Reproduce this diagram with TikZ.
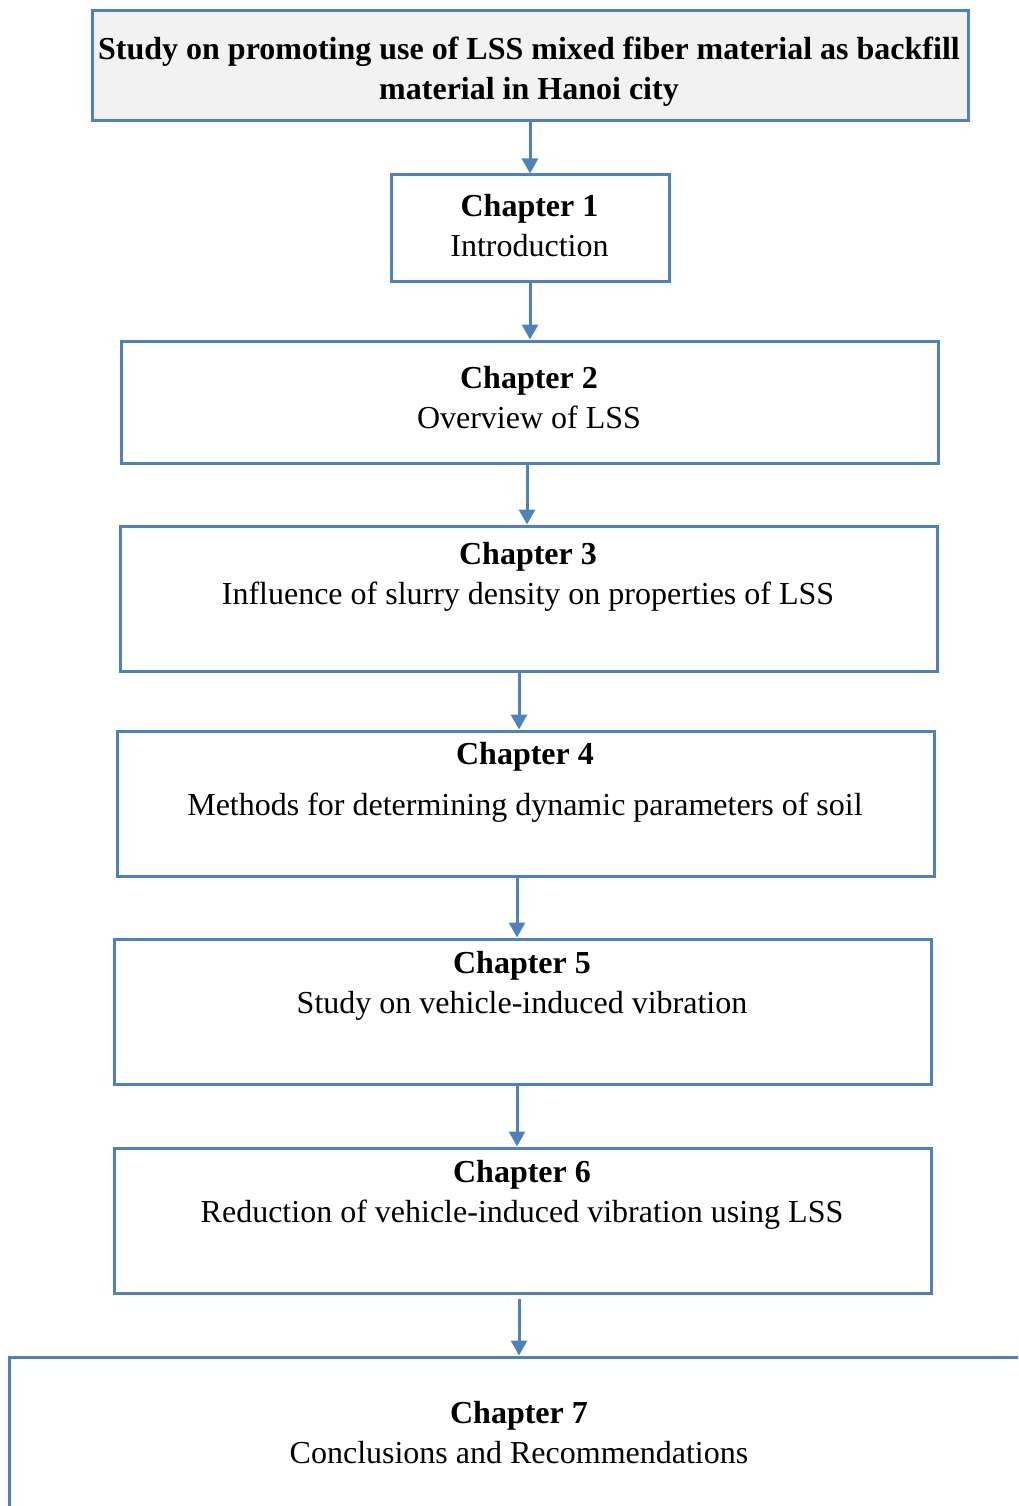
\documentclass[tikz,border=0pt]{standalone}
\usepackage{fontspec}
\setmainfont{Liberation Serif}
\usetikzlibrary{arrows.meta}
\definecolor{boxblue}{HTML}{4F81BD}
\definecolor{boxgray}{HTML}{F2F2F2}
\begin{document}
\begin{tikzpicture}
  [
    x = 1pt, y = -1pt,
    every node/.style = {align = center, inner sep = 0pt, font = \fontsize{32}{40}\selectfont},
    chapbox/.style = {draw = boxblue, line width = 3pt, rectangle},
    flow/.style = {-{Triangle[width = 16pt, length = 15pt]}, draw = boxblue, line width = 3pt}
  ]
    \useasboundingbox (0,0) rectangle (1018,1506);
    \clip (0,0) rectangle (1018,1506);
    \node (top) [chapbox, fill = boxgray, minimum width = 876pt, minimum height = 110pt] at (530,66) {};
    \node (ch1) [chapbox, minimum width = 278pt, minimum height = 106pt] at (530,228) {};
    \node (ch2) [chapbox, minimum width = 817pt, minimum height = 122pt] at (529.5,402) {};
    \node (ch3) [chapbox, minimum width = 817pt, minimum height = 145pt] at (528.5,598.5) {};
    \node (ch4) [chapbox, minimum width = 817pt, minimum height = 145pt] at (525.5,803.5) {};
    \node (ch5) [chapbox, minimum width = 817pt, minimum height = 145pt] at (522.5,1011.5) {};
    \node (ch6) [chapbox, minimum width = 817pt, minimum height = 145pt] at (522.5,1220.5) {};
    \node (ch7) [chapbox, minimum width = 1031pt, minimum height = 173pt] at (524.5,1443.5) {};
    \node (t0) at (529,72) {\textbf{Study on promoting use of LSS mixed fiber material as backfill}\\\textbf{material in Hanoi city}};
    \node (t1) at (529.5,226) {\textbf{Chapter 1}\\Introduction};
    \node (t2) at (529,398) {\textbf{Chapter 2}\\Overview of LSS};
    \node (t3) at (528,577) {\textbf{Chapter 3}\\Influence of slurry density on properties of LSS};
    \node (t4) at (525,782.5) {\textbf{Chapter 4}\\[11pt]Methods for determining dynamic parameters of soil};
    \node (t5) at (522,986) {\textbf{Chapter 5}\\Study on vehicle-induced vibration};
    \node (t6) at (522,1195) {\textbf{Chapter 6}\\Reduction of vehicle-induced vibration using LSS};
    \node (t7) at (519,1433) {\textbf{Chapter 7}\\Conclusions and Recommendations};
    \draw [flow] (top.south) -- (ch1.north);
    \draw [flow] (ch1.south) -- ([xshift = 0.5pt]ch2.north);
    \draw [flow] ([xshift = -2.5pt]ch2.south) -- ([xshift = -1.5pt]ch3.north);
    \draw [flow] ([xshift = -9.5pt]ch3.south) -- ([xshift = -6.5pt]ch4.north);
    \draw [flow] ([xshift = -8.5pt]ch4.south) -- ([xshift = -5.5pt]ch5.north);
    \draw [flow] ([xshift = -5.5pt]ch5.south) -- ([xshift = -5.5pt]ch6.north);
    \draw [flow, shorten < = 4pt] ([xshift = -3.5pt]ch6.south) -- ([xshift = -5.5pt]ch7.north);
\end{tikzpicture}
\end{document}
